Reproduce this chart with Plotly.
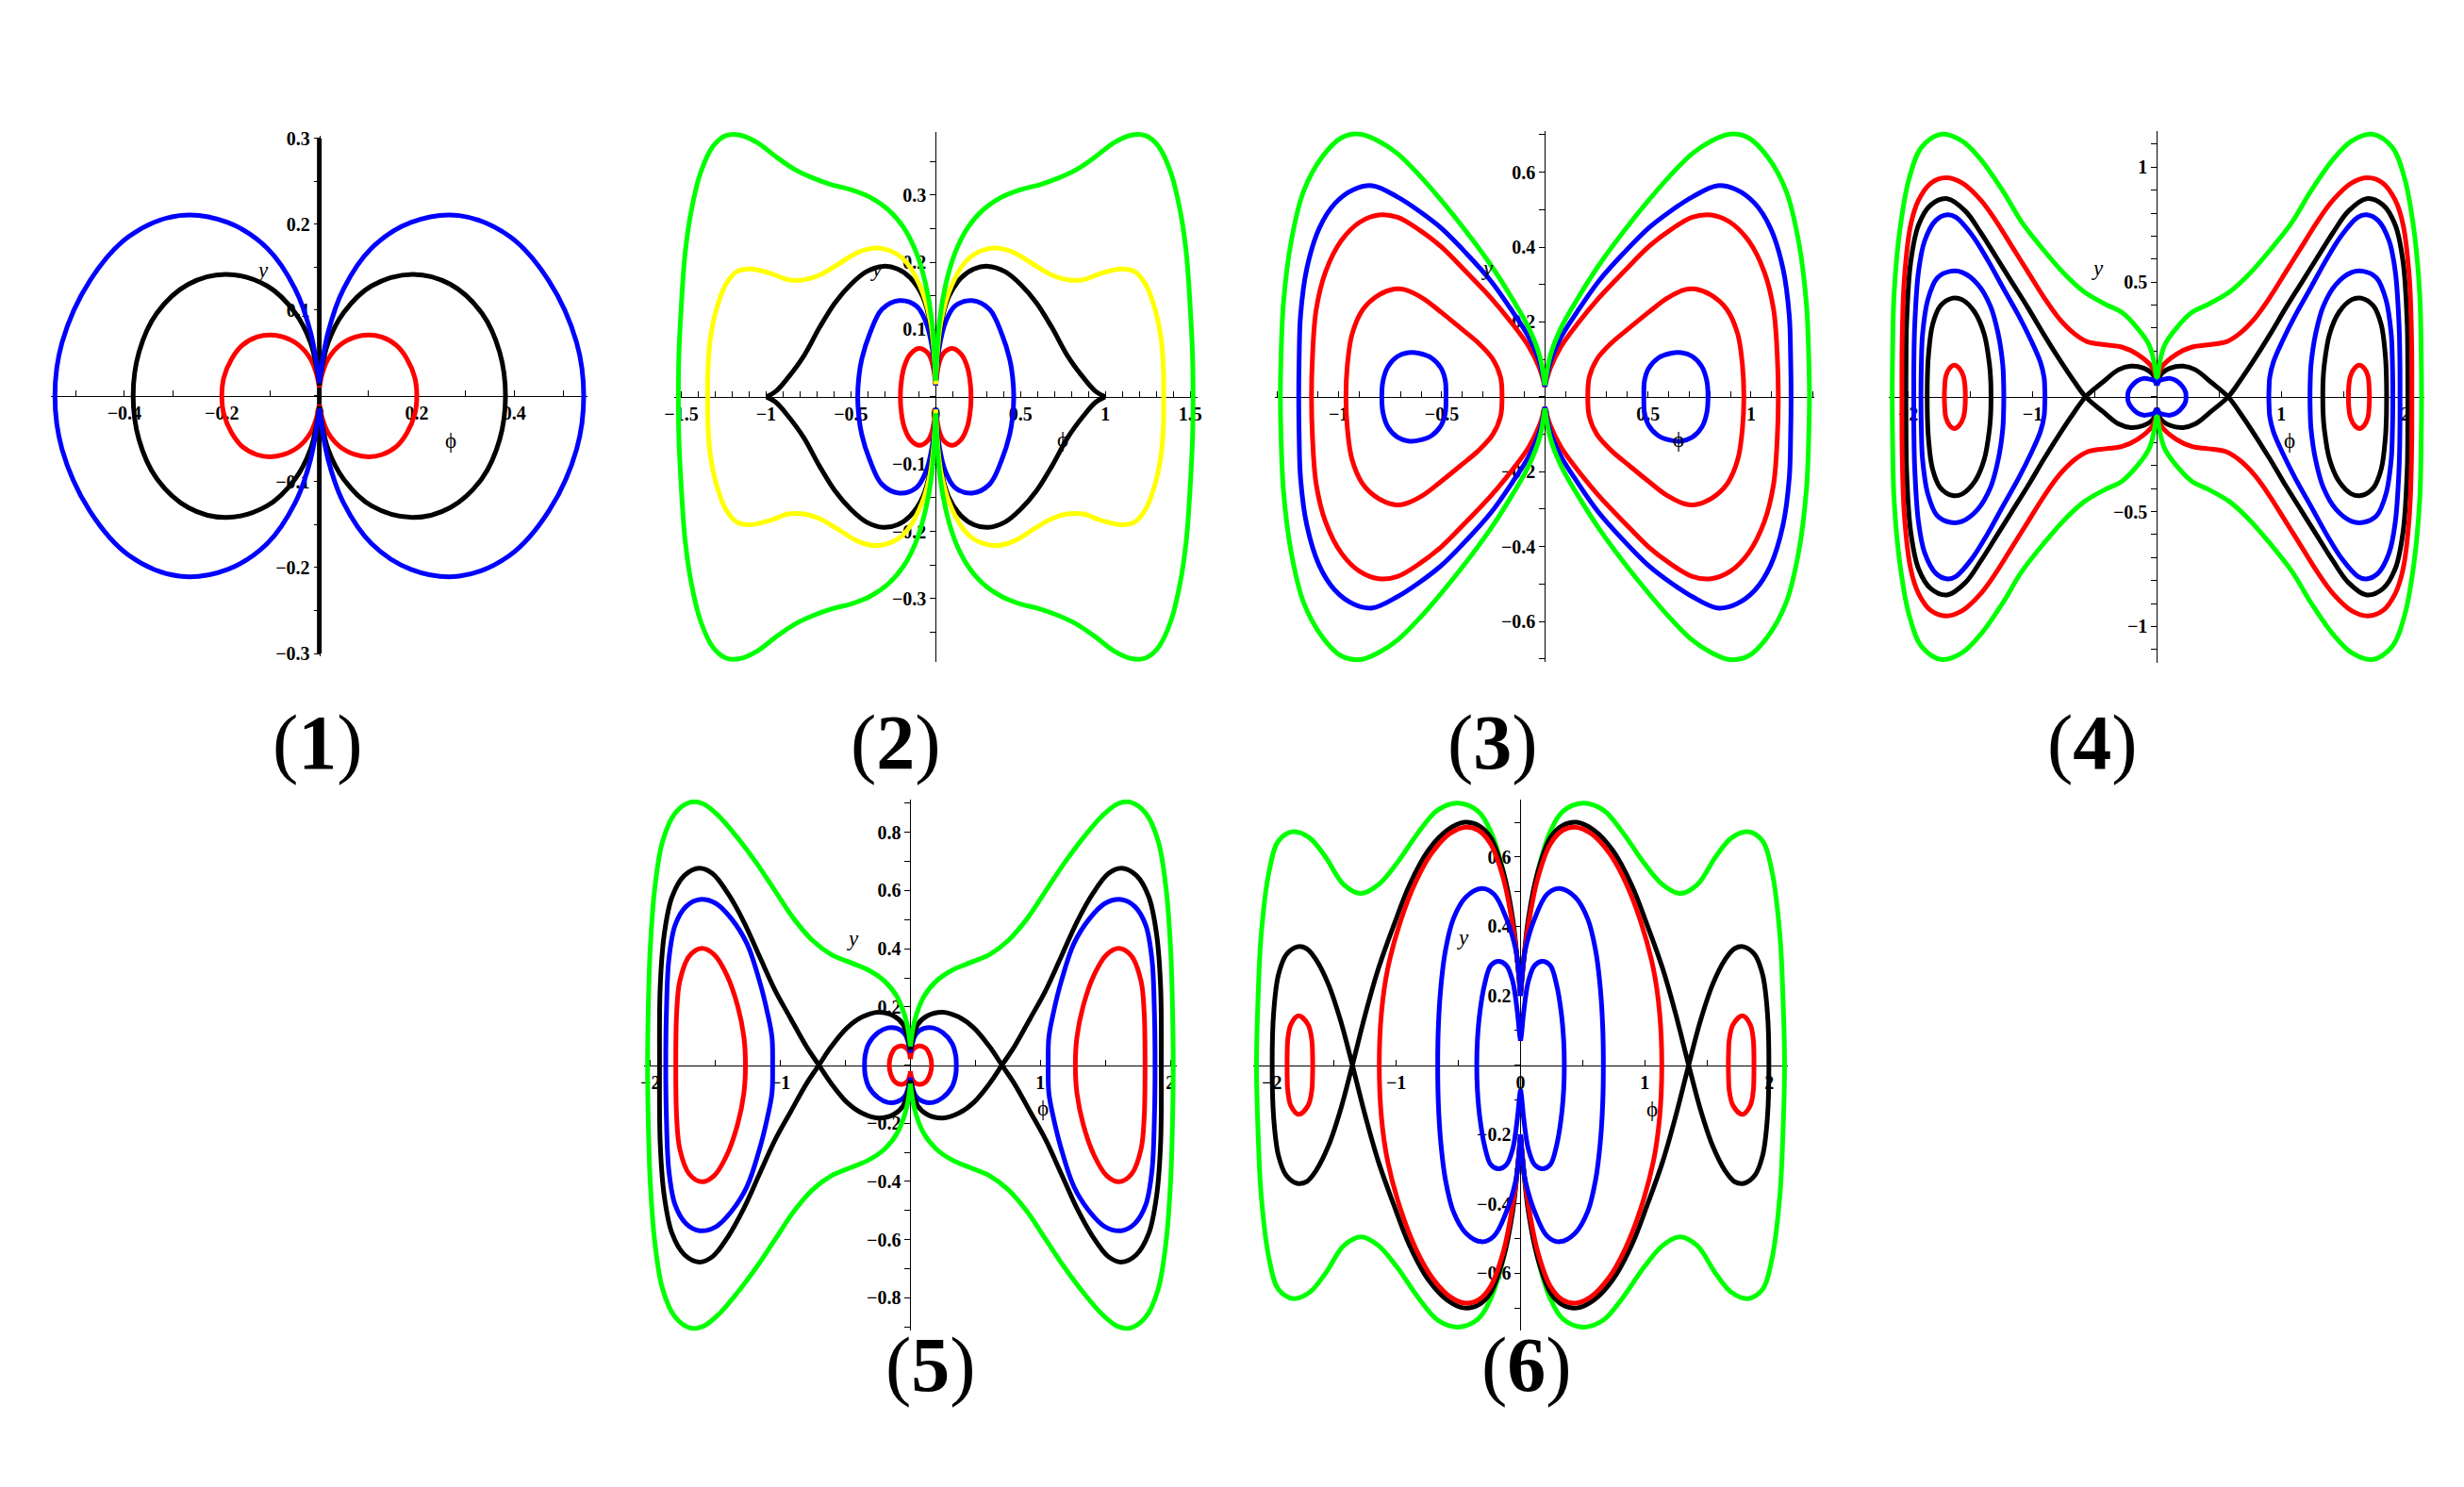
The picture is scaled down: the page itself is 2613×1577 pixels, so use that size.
import plotly.graph_objects as go

W, H = 2613, 1577

# ---------------- DATA: upper-right quadrant (phi >= 0, y >= 0) of each orbit ----------------
# Panel (1)
P1_RED_PHI = [0.0, 0.006, 0.018, 0.042, 0.074, 0.101, 0.128, 0.158, 0.180, 0.196, 0.200]
P1_RED_Y = [0.01, 0.026, 0.043, 0.059, 0.0685, 0.071, 0.0685, 0.059, 0.043, 0.021, 0.0]
P1_BLACK_PHI = [0.0, 0.004, 0.018, 0.05, 0.107, 0.191, 0.269, 0.334, 0.37, 0.382]
P1_BLACK_Y = [0.012, 0.028, 0.062, 0.097, 0.128, 0.1416, 0.13, 0.096, 0.051, 0.0]
P1_BLUE_PHI = [0.0, 0.018, 0.05, 0.107, 0.188, 0.287, 0.39, 0.471, 0.528, 0.5425]
P1_BLUE_Y = [0.015, 0.074, 0.125, 0.172, 0.202, 0.21, 0.186, 0.134, 0.062, 0.0]
P1_AXIS_LINE_Y = [-0.3, 0.3]

# Panel (2)
P2_RED_PHI = [0.0, 0.022, 0.05, 0.099, 0.151, 0.188, 0.206, 0.208]
P2_RED_Y = [0.017, 0.052, 0.066, 0.072, 0.063, 0.043, 0.015, 0.0]
P2_BLUE_PHI = [0.0, 0.022, 0.059, 0.114, 0.215, 0.317, 0.39, 0.436, 0.453, 0.46]
P2_BLUE_Y = [0.017, 0.075, 0.112, 0.135, 0.143, 0.13, 0.093, 0.056, 0.03, 0.0]
P2_BLACK_PHI = [0.0, 0.031, 0.077, 0.151, 0.225, 0.308, 0.409, 0.501, 0.593, 0.685, 0.777, 0.869, 0.943, 0.998]
P2_BLACK_Y = [0.019, 0.107, 0.149, 0.177, 0.19, 0.194, 0.186, 0.167, 0.14, 0.103, 0.061, 0.029, 0.008, 0.0]
P2_YELLOW_PHI = [0.0, 0.031, 0.096, 0.188, 0.28, 0.363, 0.464, 0.575, 0.685, 0.777, 0.869, 0.98, 1.09,
                 1.173, 1.238, 1.293, 1.33, 1.343, 1.344]
P2_YELLOW_Y = [0.019, 0.112, 0.167, 0.204, 0.218, 0.221, 0.214, 0.197, 0.181, 0.174, 0.174, 0.184, 0.19,
               0.186, 0.167, 0.13, 0.084, 0.038, 0.0]
P2_GREEN_PHI = [0.0, 0.022, 0.059, 0.114, 0.188, 0.28, 0.39, 0.501, 0.611, 0.722, 0.832, 0.943, 1.053,
                1.155, 1.238, 1.311, 1.385, 1.44, 1.477, 1.501, 1.514, 1.517]
P2_GREEN_Y = [0.024, 0.112, 0.167, 0.214, 0.251, 0.278, 0.297, 0.308, 0.315, 0.325, 0.338, 0.357, 0.378,
              0.389, 0.388, 0.373, 0.334, 0.278, 0.214, 0.13, 0.061, 0.0]

# Panel (3)
P3_BLUE_IN_PHI = [0.48, 0.483, 0.503, 0.548, 0.609, 0.662, 0.715, 0.761, 0.785, 0.791]
P3_BLUE_IN_Y = [0.0, 0.043, 0.076, 0.103, 0.116, 0.118, 0.108, 0.081, 0.043, 0.0]
P3_RED_IN_PHI = [0.208, 0.215, 0.253, 0.321, 0.412, 0.503, 0.594, 0.685, 0.73, 0.806, 0.882, 0.935, 0.958, 0.965]
P3_RED_IN_Y = [0.0, 0.052, 0.101, 0.143, 0.185, 0.226, 0.264, 0.287, 0.288, 0.272, 0.234, 0.168, 0.085, 0.0]
P3_RED_OUT_PHI = [0.0, 0.026, 0.079, 0.155, 0.261, 0.382, 0.503, 0.609, 0.715, 0.806, 0.897, 0.988, 1.064,
                  1.109, 1.127, 1.132]
P3_RED_OUT_Y = [0.027, 0.076, 0.135, 0.193, 0.264, 0.334, 0.401, 0.446, 0.48, 0.486, 0.467, 0.417, 0.334,
                0.234, 0.11, 0.0]
P3_BLUE_OUT_PHI = [0.0, 0.026, 0.079, 0.155, 0.261, 0.382, 0.503, 0.609, 0.715, 0.836, 0.927, 1.018, 1.094,
                   1.155, 1.185, 1.192, 1.194]
P3_BLUE_OUT_Y = [0.027, 0.093, 0.16, 0.226, 0.309, 0.384, 0.451, 0.496, 0.534, 0.564, 0.554, 0.517, 0.451,
                 0.342, 0.218, 0.101, 0.0]
P3_GREEN_PHI = [0.0, 0.026, 0.079, 0.155, 0.261, 0.382, 0.503, 0.609, 0.715, 0.806, 0.897, 0.988, 1.079,
                1.17, 1.23, 1.268, 1.28, 1.283]
P3_GREEN_Y = [0.031, 0.11, 0.185, 0.259, 0.351, 0.442, 0.525, 0.592, 0.65, 0.683, 0.702, 0.692, 0.642,
              0.55, 0.417, 0.251, 0.101, 0.0]

# Panel (4)
P4_RED_SMALL_PHI = [1.54, 1.543, 1.556, 1.59, 1.628, 1.666, 1.697, 1.706, 1.709]
P4_RED_SMALL_Y = [0.0, 0.045, 0.09, 0.125, 0.138, 0.125, 0.09, 0.045, 0.0]
P4_BLACK_IN_PHI = [1.334, 1.336, 1.346, 1.389, 1.465, 1.565, 1.641, 1.741, 1.804, 1.837, 1.845, 1.847]
P4_BLACK_IN_Y = [0.0, 0.07, 0.14, 0.274, 0.369, 0.423, 0.43, 0.396, 0.314, 0.179, 0.09, 0.0]
P4_BLUE_MID_PHI = [1.231, 1.233, 1.239, 1.276, 1.339, 1.44, 1.565, 1.658, 1.766, 1.842, 1.884, 1.894, 1.897]
P4_BLUE_MID_Y = [0.0, 0.07, 0.138, 0.274, 0.396, 0.49, 0.542, 0.547, 0.518, 0.423, 0.274, 0.14, 0.0]
P4_BLUE_BIG_PHI = [0.9, 0.902, 0.907, 0.937, 1.013, 1.113, 1.239, 1.364, 1.49, 1.616, 1.686, 1.779, 1.867,
                   1.917, 1.947, 1.954, 1.955]
P4_BLUE_BIG_Y = [0.0, 0.04, 0.084, 0.152, 0.247, 0.355, 0.477, 0.599, 0.707, 0.782, 0.793, 0.768, 0.68,
                 0.545, 0.314, 0.15, 0.0]
P4_SEP_IN_PHI = [0.0, 0.033, 0.108, 0.209, 0.309, 0.435, 0.573]
P4_SEP_IN_Y = [0.05, 0.098, 0.125, 0.134, 0.118, 0.064, 0.0]
P4_SEP_OUT_PHI = [0.573, 0.661, 0.786, 0.912, 1.038, 1.163, 1.289, 1.415, 1.54, 1.686, 1.817, 1.917, 1.98,
                  2.013, 2.017, 2.018]
P4_SEP_OUT_Y = [0.0, 0.064, 0.165, 0.274, 0.389, 0.497, 0.606, 0.714, 0.809, 0.863, 0.836, 0.748, 0.585,
                0.314, 0.15, 0.0]
P4_RED_OUT_PHI = [0.0, 0.033, 0.158, 0.284, 0.41, 0.56, 0.661, 0.786, 0.912, 1.038, 1.163, 1.289, 1.415,
                  1.565, 1.696, 1.817, 1.917, 1.98, 2.03, 2.048, 2.05]
P4_RED_OUT_Y = [0.06, 0.125, 0.186, 0.217, 0.226, 0.24, 0.274, 0.341, 0.436, 0.545, 0.653, 0.762, 0.856,
                0.931, 0.954, 0.931, 0.856, 0.748, 0.518, 0.247, 0.0]
P4_GREEN_PHI = [0.0, 0.058, 0.158, 0.284, 0.41, 0.585, 0.736, 0.912, 1.088, 1.239, 1.415, 1.565, 1.729,
                1.892, 1.992, 2.068, 2.113, 2.125, 2.128]
P4_GREEN_Y = [0.07, 0.22, 0.30, 0.369, 0.402, 0.457, 0.531, 0.64, 0.762, 0.897, 1.033, 1.114, 1.144,
              1.087, 0.951, 0.721, 0.45, 0.2, 0.0]
P4_BLUE_C_PHI = [0.0, 0.02, 0.058, 0.108, 0.158, 0.209, 0.231, 0.234]
P4_BLUE_C_Y = [0.05, 0.07, 0.077, 0.08, 0.07, 0.043, 0.02, 0.0]

# Panel (5)
P5_RED_C_PHI = [0.0, 0.019, 0.067, 0.115, 0.151, 0.163]
P5_RED_C_Y = [0.021, 0.053, 0.066, 0.059, 0.032, 0.0]
P5_BLUE_C_PHI = [0.0, 0.043, 0.103, 0.175, 0.248, 0.32, 0.349, 0.353]
P5_BLUE_C_Y = [0.043, 0.107, 0.126, 0.128, 0.112, 0.075, 0.032, 0.0]
P5_SEP_IN_PHI = [0.0, 0.055, 0.127, 0.248, 0.368, 0.488, 0.608, 0.704]
P5_SEP_IN_Y = [0.053, 0.139, 0.169, 0.182, 0.166, 0.128, 0.064, 0.0]
P5_SEP_OUT_PHI = [0.704, 0.8, 0.921, 1.041, 1.161, 1.281, 1.401, 1.522, 1.623, 1.738, 1.834, 1.894, 1.925, 1.93]
P5_SEP_OUT_Y = [0.0, 0.064, 0.16, 0.257, 0.374, 0.492, 0.588, 0.658, 0.677, 0.652, 0.578, 0.449, 0.267, 0.0]
P5_BLUE_W_PHI = [1.06, 1.065, 1.101, 1.161, 1.257, 1.377, 1.498, 1.623, 1.726, 1.81, 1.858, 1.877, 1.882]
P5_BLUE_W_Y = [0.0, 0.096, 0.182, 0.289, 0.417, 0.503, 0.556, 0.569, 0.545, 0.481, 0.364, 0.182, 0.0]
P5_RED_W_PHI = [1.269, 1.281, 1.329, 1.413, 1.51, 1.606, 1.702, 1.774, 1.798, 1.805]
P5_RED_W_Y = [0.0, 0.096, 0.203, 0.31, 0.38, 0.401, 0.374, 0.289, 0.182, 0.0]
P5_GREEN_PHI = [0.0, 0.031, 0.103, 0.2, 0.32, 0.464, 0.608, 0.752, 0.897, 1.041, 1.185, 1.329, 1.474,
                1.594, 1.69, 1.81, 1.906, 1.966, 2.002, 2.017, 2.022]
P5_GREEN_Y = [0.064, 0.15, 0.235, 0.289, 0.326, 0.353, 0.38, 0.428, 0.503, 0.599, 0.695, 0.781, 0.856,
              0.898, 0.904, 0.866, 0.77, 0.61, 0.396, 0.182, 0.0]

# Panel (6)
P6_GREEN_PHI = [0.0, 0.025, 0.063, 0.138, 0.239, 0.339, 0.503, 0.666, 0.817, 0.992, 1.143, 1.281, 1.42,
                1.57, 1.696, 1.827, 1.947, 2.023, 2.085, 2.11, 2.123]
P6_GREEN_Y = [0.2, 0.3, 0.404, 0.556, 0.673, 0.731, 0.755, 0.735, 0.673, 0.583, 0.52, 0.495, 0.52,
              0.601, 0.655, 0.673, 0.646, 0.556, 0.377, 0.197, 0.0]
P6_SEP_IN_PHI = [0.0, 0.025, 0.063, 0.138, 0.239, 0.339, 0.452, 0.59, 0.741, 0.892, 1.018, 1.143, 1.244, 1.352]
P6_SEP_IN_Y = [0.2, 0.3, 0.422, 0.556, 0.655, 0.691, 0.7, 0.677, 0.619, 0.52, 0.404, 0.278, 0.152, 0.0]
P6_SEP_OUT_PHI = [1.352, 1.445, 1.545, 1.646, 1.721, 1.796, 1.884, 1.947, 1.985, 1.997]
P6_SEP_OUT_Y = [0.0, 0.126, 0.233, 0.305, 0.336, 0.341, 0.318, 0.26, 0.152, 0.0]
P6_RED_BIG_PHI = [0.0, 0.025, 0.063, 0.138, 0.239, 0.339, 0.44, 0.565, 0.716, 0.842, 0.967, 1.068, 1.118, 1.136]
P6_RED_BIG_Y = [0.2, 0.3, 0.404, 0.538, 0.637, 0.677, 0.686, 0.668, 0.61, 0.529, 0.413, 0.278, 0.152, 0.0]
P6_BLUE_OUT_PHI = [0.0, 0.015, 0.038, 0.113, 0.214, 0.314, 0.44, 0.54, 0.603, 0.641, 0.661, 0.666]
P6_BLUE_OUT_Y = [0.2, 0.27, 0.332, 0.422, 0.493, 0.509, 0.484, 0.422, 0.332, 0.224, 0.108, 0.0]
P6_BLUE_IN_PHI = [0.0, 0.008, 0.025, 0.063, 0.113, 0.176, 0.239, 0.289, 0.327, 0.347, 0.352]
P6_BLUE_IN_Y = [0.07, 0.09, 0.152, 0.242, 0.287, 0.299, 0.287, 0.233, 0.152, 0.07, 0.0]
P6_RED_SMALL_PHI = [1.671, 1.673, 1.678, 1.709, 1.784, 1.847, 1.872, 1.876, 1.877]
P6_RED_SMALL_Y = [0.0, 0.04, 0.072, 0.117, 0.142, 0.117, 0.072, 0.04, 0.0]

# tick labels per panel
P1_XTICKS = [-0.4, -0.2, 0, 0.2, 0.4]
P1_YTICKS = [-0.3, -0.2, -0.1, 0.1, 0.2, 0.3]
P2_XTICKS = [-1.5, -1, -0.5, 0, 0.5, 1, 1.5]
P2_YTICKS = [-0.3, -0.2, -0.1, 0.1, 0.2, 0.3]
P3_XTICKS = [-1, -0.5, 0, 0.5, 1]
P3_YTICKS = [-0.6, -0.4, -0.2, 0.2, 0.4, 0.6]
P4_XTICKS = [-2, -1, 0, 1, 2]
P4_YTICKS = [-1, -0.5, 0.5, 1]
P5_XTICKS = [-2, -1, 0, 1, 2]
P5_YTICKS = [-0.8, -0.6, -0.4, -0.2, 0.2, 0.4, 0.6, 0.8]
P6_XTICKS = [-2, -1, 0, 1, 2]
P6_YTICKS = [-0.6, -0.4, -0.2, 0.2, 0.4, 0.6]

PANEL_LABELS = ["1", "2", "3", "4", "5", "6"]

# ---------------- colours / styles ----------------
BLUE, RED, BLACK, GREEN, YELLOW = "#0000FF", "#FF0000", "#000000", "#00FF00", "#FFFF00"
LW = 5

# ---------------- layout geometry (pixels) ----------------
GEOM = [
    dict(cx=321.6, cy=408.0, sx=520.0, sy=920.0, rx=0.545, ry=0.30, mx=0.1, my=0.05),
    dict(cx=979.3, cy=409.0, sx=181.0, sy=721.0, rx=1.525, ry=0.39, mx=0.1, my=0.05),
    dict(cx=1629.3, cy=409.0, sx=220.0, sy=401.0, rx=1.295, ry=0.702, mx=0.1, my=0.1),
    dict(cx=2282.3, cy=409.0, sx=132.7, sy=246.0, rx=2.13, ry=1.145, mx=0.5, my=0.1),
    dict(cx=952.3, cy=1125.0, sx=138.7, sy=311.7, rx=2.03, ry=0.904, mx=0.5, my=0.1),
    dict(cx=1603.3, cy=1125.0, sx=132.7, sy=371.7, rx=2.13, ry=0.758, mx=0.5, my=0.1),
]
LABEL_POS = [(320, 779), (937, 779), (1574, 779), (2214, 779), (974, 1446), (1610, 1446)]
AXLBL = [  # (y-label data pos, phi-label data pos)
    ((-0.117, 0.146), (0.27, -0.052)),
    ((-0.35, 0.19), (0.75, -0.064)),
    ((-0.28, 0.343), (0.646, -0.115)),
    ((-0.48, 0.56), (1.07, -0.19)),
    ((-0.44, 0.436), (1.02, -0.15)),
    ((-0.46, 0.367), (1.06, -0.128)),
]
TICKS = [(P1_XTICKS, P1_YTICKS), (P2_XTICKS, P2_YTICKS), (P3_XTICKS, P3_YTICKS),
         (P4_XTICKS, P4_YTICKS), (P5_XTICKS, P5_YTICKS), (P6_XTICKS, P6_YTICKS)]


# ---------------- helpers building closed orbits from a quadrant by symmetry ----------------
def neg(v):
    return [None if a is None else -a for a in v]


def lobe(phi, y):
    xs = list(phi) + list(reversed(phi))[1:]
    ys = list(y) + neg(list(reversed(y)))[1:]
    return xs, ys


def sep_lobe(pin, yin, pout, yout):
    xs = list(pin) + list(pout)[1:] + list(reversed(pout))[1:] + list(reversed(pin))[1:]
    ys = (list(yin) + neg(yout)[1:] + list(reversed(yout))[1:] + neg(list(reversed(yin)))[1:])
    return xs, ys


def cusp_lobe(phi, y):
    return list(phi) + [None] + list(phi), list(y) + [None] + neg(y)


def both(xs, ys):
    return xs + [None] + neg(xs), ys + [None] + ys


CURVES = {
    1: [("lobe", RED, P1_RED_PHI, P1_RED_Y),
        ("lobe", BLACK, P1_BLACK_PHI, P1_BLACK_Y),
        ("lobe", BLUE, P1_BLUE_PHI, P1_BLUE_Y)],
    2: [("lobe", RED, P2_RED_PHI, P2_RED_Y),
        ("lobe", BLUE, P2_BLUE_PHI, P2_BLUE_Y),
        ("cusp", BLACK, P2_BLACK_PHI, P2_BLACK_Y),
        ("lobe", YELLOW, P2_YELLOW_PHI, P2_YELLOW_Y),
        ("lobe", GREEN, P2_GREEN_PHI, P2_GREEN_Y)],
    3: [("lobe", BLUE, P3_BLUE_IN_PHI, P3_BLUE_IN_Y),
        ("lobe", RED, P3_RED_IN_PHI, P3_RED_IN_Y),
        ("lobe", RED, P3_RED_OUT_PHI, P3_RED_OUT_Y),
        ("lobe", BLUE, P3_BLUE_OUT_PHI, P3_BLUE_OUT_Y),
        ("lobe", GREEN, P3_GREEN_PHI, P3_GREEN_Y)],
    4: [("lobe", RED, P4_RED_SMALL_PHI, P4_RED_SMALL_Y),
        ("lobe", BLACK, P4_BLACK_IN_PHI, P4_BLACK_IN_Y),
        ("lobe", BLUE, P4_BLUE_MID_PHI, P4_BLUE_MID_Y),
        ("lobe", BLUE, P4_BLUE_BIG_PHI, P4_BLUE_BIG_Y),
        ("sep", BLACK, P4_SEP_IN_PHI, P4_SEP_IN_Y, P4_SEP_OUT_PHI, P4_SEP_OUT_Y),
        ("lobe", RED, P4_RED_OUT_PHI, P4_RED_OUT_Y),
        ("lobe", GREEN, P4_GREEN_PHI, P4_GREEN_Y),
        ("lobe", BLUE, P4_BLUE_C_PHI, P4_BLUE_C_Y)],
    5: [("lobe", RED, P5_RED_C_PHI, P5_RED_C_Y),
        ("lobe", BLUE, P5_BLUE_C_PHI, P5_BLUE_C_Y),
        ("sep", BLACK, P5_SEP_IN_PHI, P5_SEP_IN_Y, P5_SEP_OUT_PHI, P5_SEP_OUT_Y),
        ("lobe", BLUE, P5_BLUE_W_PHI, P5_BLUE_W_Y),
        ("lobe", RED, P5_RED_W_PHI, P5_RED_W_Y),
        ("lobe", GREEN, P5_GREEN_PHI, P5_GREEN_Y)],
    6: [("lobe", GREEN, P6_GREEN_PHI, P6_GREEN_Y),
        ("sep", BLACK, P6_SEP_IN_PHI, P6_SEP_IN_Y, P6_SEP_OUT_PHI, P6_SEP_OUT_Y),
        ("lobe", RED, P6_RED_BIG_PHI, P6_RED_BIG_Y),
        ("lobe", BLUE, P6_BLUE_OUT_PHI, P6_BLUE_OUT_Y),
        ("lobe", BLUE, P6_BLUE_IN_PHI, P6_BLUE_IN_Y),
        ("lobe", RED, P6_RED_SMALL_PHI, P6_RED_SMALL_Y)],
}

fig = go.Figure()

# panel 1 thick line along phi = 0
fig.add_trace(go.Scatter(x=[0, 0], y=P1_AXIS_LINE_Y, mode="lines",
                         line=dict(color=BLACK, width=LW), xaxis="x", yaxis="y",
                         hoverinfo="skip", showlegend=False))

for p in range(1, 7):
    xa = "x" if p == 1 else f"x{p}"
    ya = "y" if p == 1 else f"y{p}"
    for c in CURVES[p]:
        kind, col = c[0], c[1]
        if kind == "lobe":
            xs, ys = lobe(c[2], c[3])
        elif kind == "sep":
            xs, ys = sep_lobe(c[2], c[3], c[4], c[5])
        else:
            xs, ys = cusp_lobe(c[2], c[3])
        xs, ys = both(xs, ys)
        fig.add_trace(go.Scatter(x=xs, y=ys, mode="lines",
                                 line=dict(color=col, width=LW, shape="spline", smoothing=1.0),
                                 xaxis=xa, yaxis=ya, hoverinfo="skip", showlegend=False,
                                 connectgaps=False))

TICKFONT = dict(family="Liberation Serif, Times New Roman, serif", size=20, color="black", weight="bold")


def fmt(v):
    s = f"{v:g}"
    return s.replace("-", "\u2212")


PAD = 3.0
layout = {}
annotations = []
for i, g in enumerate(GEOM):
    p = i + 1
    xk = "xaxis" if p == 1 else f"xaxis{p}"
    yk = "yaxis" if p == 1 else f"yaxis{p}"
    rxp = g["rx"] + PAD / g["sx"]
    ryp = g["ry"] + PAD / g["sy"]
    x0 = g["cx"] - rxp * g["sx"]
    x1 = g["cx"] + rxp * g["sx"]
    ytop = g["cy"] - ryp * g["sy"]
    ybot = g["cy"] + ryp * g["sy"]
    xt, yt = TICKS[i]
    layout[xk] = dict(domain=[x0 / W, x1 / W], range=[-rxp, rxp], anchor="free",
                      position=1 - g["cy"] / H, showgrid=False, zeroline=False,
                      showline=True, linecolor="black", linewidth=1, layer="below traces",
                      tickmode="array", tickvals=xt, ticktext=[fmt(v) for v in xt],
                      ticks="inside", ticklen=6, tickwidth=1, tickcolor="black",
                      minor=dict(dtick=g["mx"], tick0=0, ticks="inside", ticklen=6,
                                 tickwidth=1, tickcolor="black"),
                      tickfont=TICKFONT, fixedrange=True)
    layout[yk] = dict(domain=[1 - ybot / H, 1 - ytop / H], range=[-ryp, ryp], anchor="free",
                      position=g["cx"] / W, showgrid=False, zeroline=False,
                      showline=True, linecolor="black", linewidth=1, layer="below traces",
                      tickmode="array", tickvals=yt, ticktext=[fmt(v) for v in yt],
                      ticks="outside", ticklen=6, tickwidth=1, tickcolor="black",
                      minor=dict(dtick=g["my"], tick0=0, ticks="outside", ticklen=6,
                                 tickwidth=1, tickcolor="black"),
                      tickfont=TICKFONT, fixedrange=True)
    xr = "x" if p == 1 else f"x{p}"
    yr = "y" if p == 1 else f"y{p}"
    (ylx, yly), (plx, ply) = AXLBL[i]
    annotations.append(dict(x=ylx, y=yly, xref=xr, yref=yr, text="<i>y</i>", showarrow=False,
                            font=dict(family="Liberation Serif, serif", size=23, color="black")))
    annotations.append(dict(x=plx, y=ply, xref=xr, yref=yr, text="\u03d5", showarrow=False,
                            font=dict(family="Liberation Serif, DejaVu Serif, serif", size=23,
                                      color="black")))
    lx, ly = LABEL_POS[i]
    annotations.append(dict(x=lx / W, y=1 - ly / H, xref="paper", yref="paper",
                            text=f"(<b>{PANEL_LABELS[i]}</b>)", showarrow=False,
                            xanchor="center", yanchor="middle",
                            font=dict(family="Liberation Serif, Times New Roman, serif", size=82,
                                      color="black")))

fig.update_layout(width=W, height=H, margin=dict(l=0, r=0, t=0, b=0),
                  paper_bgcolor="white", plot_bgcolor="white", showlegend=False,
                  annotations=annotations, **layout)

fig.write_html("out.html")
